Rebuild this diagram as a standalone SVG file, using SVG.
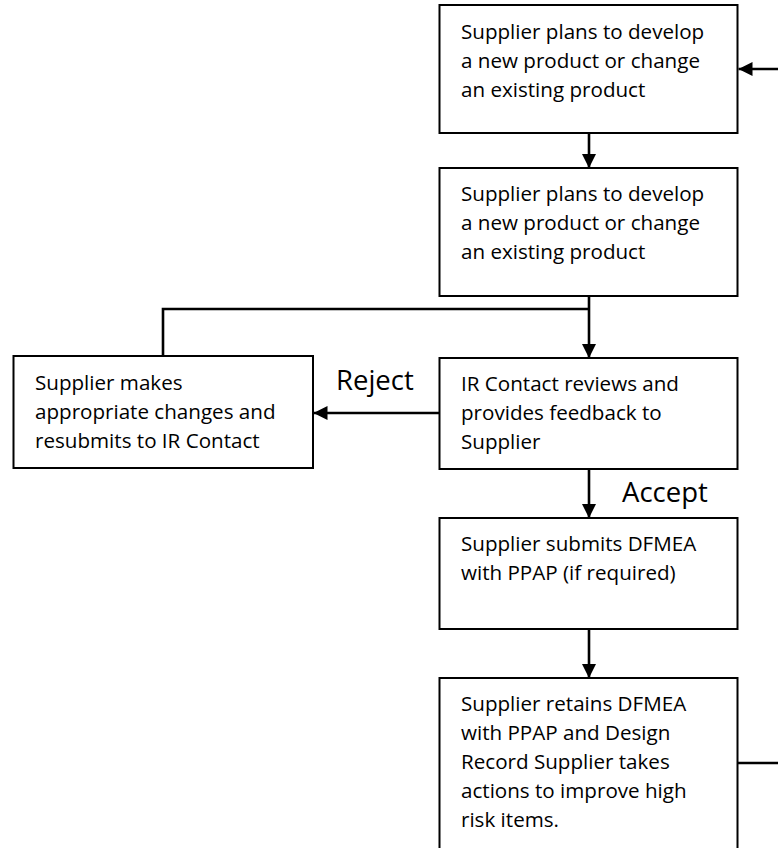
<svg xmlns="http://www.w3.org/2000/svg" width="778" height="848" viewBox="0 0 778 848">
  <style>
    .box { fill: #ffffff; stroke: #000000; stroke-width: 2; }
    .txt { font-family: "Open Sans", "Noto Sans", sans-serif; font-size: 20.6px; fill: #000000; }
    .lbl { font-family: "Open Sans", "Noto Sans", sans-serif; font-size: 27.5px; fill: #000000; }
    .wire { fill: none; stroke: #000000; stroke-width: 2.6; }
    .arrow { fill: none; stroke: #000000; stroke-width: 2.6; marker-end: url(#head); }
  </style>
  <defs>
    <marker id="head" viewBox="0 0 14 14" refX="14" refY="7" markerWidth="14" markerHeight="14" markerUnits="userSpaceOnUse" orient="auto">
      <path d="M0,0 L14,7 L0,14 Z" fill="#000000"/>
    </marker>
  </defs>

  <!-- connectors -->
  <g id="connectors">
    <path class="arrow" d="M778,69 L738.5,69"/>
    <path class="arrow" d="M589,133 L589,168"/>
    <path class="arrow" d="M589,296 L589,358"/>
    <path class="wire" d="M589,309 L163,309 L163,356"/>
    <path class="arrow" d="M439,413 L313.5,413"/>
    <path class="arrow" d="M589,469 L589,518"/>
    <path class="arrow" d="M589,629 L589,678"/>
    <path class="wire" d="M738,763 L778,763"/>
  </g>

  <g id="start">
    <rect class="box" x="439.5" y="5" width="298" height="128"/>
    <text class="txt" x="461" y="39">Supplier plans to develop</text>
    <text class="txt" x="461" y="68">a new product or change</text>
    <text class="txt" x="461" y="97">an existing product</text>
  </g>

  <g id="plan">
    <rect class="box" x="439.5" y="168" width="298" height="128"/>
    <text class="txt" x="461" y="201">Supplier plans to develop</text>
    <text class="txt" x="461" y="230">a new product or change</text>
    <text class="txt" x="461" y="259">an existing product</text>
  </g>

  <g id="review">
    <rect class="box" x="439.5" y="358" width="298" height="111"/>
    <text class="txt" x="461" y="391">IR Contact reviews and</text>
    <text class="txt" x="461" y="420">provides feedback to</text>
    <text class="txt" x="461" y="449">Supplier</text>
  </g>

  <g id="resubmit">
    <rect class="box" x="13.5" y="356" width="299.5" height="112"/>
    <text class="txt" x="35" y="390">Supplier makes</text>
    <text class="txt" x="35" y="419">appropriate changes and</text>
    <text class="txt" x="35" y="448">resubmits to IR Contact</text>
  </g>

  <g id="submit">
    <rect class="box" x="439.5" y="518" width="298" height="111"/>
    <text class="txt" x="461" y="551">Supplier submits DFMEA</text>
    <text class="txt" x="461" y="580">with PPAP (if required)</text>
  </g>

  <g id="retain">
    <rect class="box" x="439.5" y="678" width="298" height="190"/>
    <text class="txt" x="461" y="711">Supplier retains DFMEA</text>
    <text class="txt" x="461" y="740">with PPAP and Design</text>
    <text class="txt" x="461" y="769">Record Supplier takes</text>
    <text class="txt" x="461" y="798">actions to improve high</text>
    <text class="txt" x="461" y="827">risk items.</text>
  </g>

  <g id="labels">
    <text class="lbl" x="336" y="390">Reject</text>
    <text class="lbl" x="622" y="502">Accept</text>
  </g>
</svg>
